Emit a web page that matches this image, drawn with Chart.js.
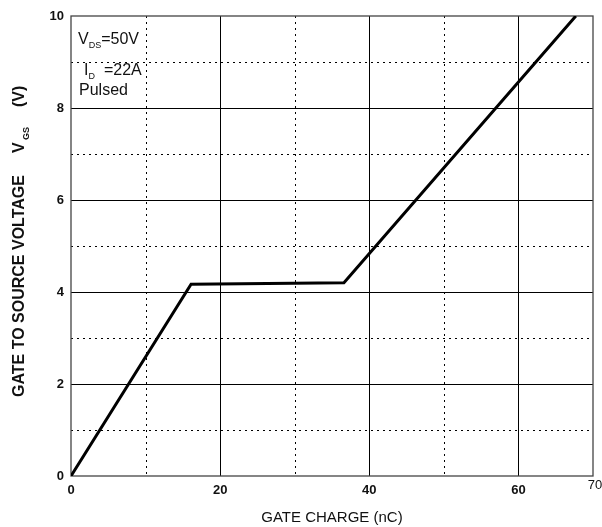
<!DOCTYPE html>
<html>
<head>
    <title>Gate Charge Characteristic</title>
    <style>
        body { margin: 0; background: #fff; }
        canvas { display: block; }
    </style>
</head>
<body>
    <canvas id="gateChart" width="602" height="527"></canvas>
    <script src="https://cdn.jsdelivr.net/npm/chart.js"></script>
    <script>
        // values
        const gateCharge = [0, 16.1, 36.6, 67.7];   // nC
        const gateVoltage = [0, 4.17, 4.2, 10];     // V
        const xTickLabels = [0, 20, 40, 60];
        const xEndLabel = 70;
        const yTickLabels = [0, 2, 4, 6, 8, 10];
        const xGridSolid = [20, 40, 60];
        const xGridDotted = [10, 30, 50];
        const yGridSolid = [2, 4, 6, 8];
        const yGridDotted = [1, 3, 5, 7, 9];

        const FONT = '"Liberation Sans", Arial, sans-serif';
        const INK = '#111';

        const gridPlugin = {
            id: 'gridPlugin',
            beforeDatasetsDraw(chart) {
                const ctx = chart.ctx;
                const a = chart.chartArea;
                const xs = chart.scales.x, ys = chart.scales.y;
                ctx.save();
                ctx.strokeStyle = '#000';
                ctx.lineWidth = 1;
                const vline = (v) => {
                    const px = Math.round(xs.getPixelForValue(v)) + 0.5;
                    ctx.beginPath(); ctx.moveTo(px, a.top); ctx.lineTo(px, a.bottom); ctx.stroke();
                };
                const hline = (v) => {
                    const py = Math.round(ys.getPixelForValue(v)) + 0.5;
                    ctx.beginPath(); ctx.moveTo(a.left, py); ctx.lineTo(a.right, py); ctx.stroke();
                };
                ctx.setLineDash([]);
                xGridSolid.forEach(vline);
                yGridSolid.forEach(hline);
                ctx.setLineDash([2, 4]);
                xGridDotted.forEach(vline);
                yGridDotted.forEach(hline);
                ctx.setLineDash([]);
                ctx.strokeStyle = '#444';
                ctx.lineWidth = 1.3;
                ctx.strokeRect(a.left, a.top, a.right - a.left, a.bottom - a.top);
                ctx.restore();
            }
        };

        // writes a run of text pieces; sub pieces are smaller and lowered
        function drawRuns(ctx, x, y, runs) {
            runs.forEach(r => {
                if (r.gap) { x += r.gap; return; }
                ctx.font = (r.sub ? '9px ' : '16px ') + FONT;
                ctx.fillText(r.t, x, y + (r.sub ? 4 : 0));
                x += ctx.measureText(r.t).width;
            });
        }

        const labelPlugin = {
            id: 'labelPlugin',
            afterDraw(chart) {
                const ctx = chart.ctx;
                const xs = chart.scales.x;
                ctx.save();
                ctx.fillStyle = INK;
                ctx.textBaseline = 'alphabetic';
                ctx.textAlign = 'left';
                drawRuns(ctx, 78, 44, [{t: 'V'}, {t: 'DS', sub: true}, {t: '=50V'}]);
                drawRuns(ctx, 84, 75, [{t: 'I'}, {t: 'D', sub: true}, {gap: 9}, {t: '=22A'}]);
                drawRuns(ctx, 79, 95, [{t: 'Pulsed'}]);

                // last x label sits a little high and to the right in the original
                ctx.font = '13px ' + FONT;
                ctx.textAlign = 'center';
                ctx.fillText(String(xEndLabel), xs.getPixelForValue(xEndLabel) + 2, 489);
                ctx.textAlign = 'left';

                // y axis title, rotated
                ctx.translate(24, 397);
                ctx.rotate(-Math.PI / 2);
                ctx.font = 'bold 16px ' + FONT;
                ctx.fillText('GATE TO SOURCE VOLTAGE', 0, 0);
                ctx.fillText('V', 244, 0);
                ctx.font = 'bold 9px ' + FONT;
                ctx.fillText('GS', 257, 5);
                ctx.font = 'bold 16px ' + FONT;
                ctx.fillText('(V)', 290, 0);
                ctx.restore();
            }
        };

        const ctx = document.getElementById('gateChart').getContext('2d');
        new Chart(ctx, {
            type: 'scatter',
            data: {
                datasets: [{
                    data: gateCharge.map((q, i) => ({ x: q, y: gateVoltage[i] })),
                    showLine: true,
                    borderColor: '#000',
                    borderWidth: 3,
                    pointRadius: 0,
                    tension: 0
                }]
            },
            options: {
                responsive: false,
                animation: false,
                layout: { padding: { top: 16, right: 9, left: 0, bottom: 0 } },
                plugins: {
                    legend: { display: false },
                    tooltip: { enabled: false }
                },
                scales: {
                    x: {
                        type: 'linear',
                        min: 0,
                        max: 70,
                        grid: { display: false, drawTicks: false },
                        border: { display: false },
                        ticks: {
                            stepSize: 10,
                            padding: 7,
                            color: INK,
                            font: { family: FONT, size: 13, weight: 'bold' },
                            maxRotation: 0,
                            callback: v => xTickLabels.includes(v) ? String(v) : ''
                        },
                        title: {
                            display: true,
                            text: 'GATE CHARGE (nC)',
                            color: INK,
                            font: { family: FONT, size: 15 },
                            padding: { top: 8, bottom: 0 }
                        },
                        afterFit: s => { s.height = 51; s.paddingRight = 0; }
                    },
                    y: {
                        min: 0,
                        max: 10,
                        grid: { display: false, drawTicks: false },
                        border: { display: false },
                        ticks: {
                            stepSize: 1,
                            padding: 7,
                            color: INK,
                            font: { family: FONT, size: 13, weight: 'bold' },
                            callback: v => yTickLabels.includes(v) ? String(v) : ''
                        },
                        afterFit: s => { s.width = 71; }
                    }
                }
            },
            plugins: [gridPlugin, labelPlugin]
        });
    </script>
</body>
</html>
